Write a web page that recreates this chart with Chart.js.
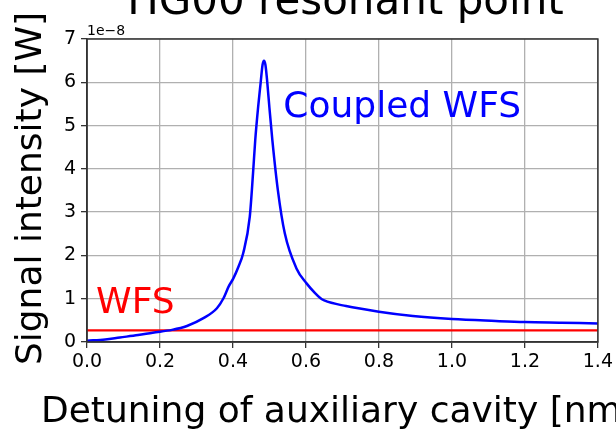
<!DOCTYPE html>
<html>
<head>
<meta charset="utf-8">
<script src="https://cdn.jsdelivr.net/npm/chart.js@4.4.0/dist/chart.umd.min.js"></script>
<style>
  html, body { margin: 0; padding: 0; background: #fff; overflow: hidden; }
  #wrap { width: 616px; height: 430px; }
</style>
</head>
<body>
<div id="wrap"><canvas id="chart" width="616" height="430"></canvas></div>
<script>
// Detuning sweep, signal values in units of 1e-8 W
const detuning = [0.00, 0.05, 0.09, 0.14, 0.18, 0.233, 0.274, 0.319, 0.356, 0.374, 0.388, 0.401, 0.415, 0.428, 0.446, 0.455, 0.461, 0.469, 0.476, 0.481, 0.485, 0.489, 0.494, 0.500, 0.508, 0.523, 0.542, 0.574, 0.601, 0.625, 0.640, 0.650, 0.71, 0.80, 0.893, 1.00, 1.12, 1.20, 1.30, 1.40];
const coupledWfs = [0.03, 0.06, 0.105, 0.16, 0.215, 0.28, 0.37, 0.55, 0.78, 1.01, 1.28, 1.47, 1.74, 2.05, 2.89, 3.90, 4.66, 5.43, 6.00, 6.40, 6.50, 6.40, 6.00, 5.40, 4.66, 3.51, 2.51, 1.70, 1.36, 1.13, 1.01, 0.96, 0.83, 0.70, 0.60, 0.53, 0.485, 0.46, 0.445, 0.43];
const wfsX = [0.0, 1.4];
const wfsLevel = [0.27, 0.27];

const xTicks = [0.0, 0.2, 0.4, 0.6, 0.8, 1.0, 1.2, 1.4];
const yTicks = [0, 1, 2, 3, 4, 5, 6, 7];
const yOffsetLabel = "1e\u22128";

const titleText = "HG00 resonant point";
const xTitle = "Detuning of auxiliary cavity [nm]";
const yTitle = "Signal intensity [W]";
// annotation labels: [text, x, y, colour]
const labels = [
  ["Coupled WFS", 0.538, 5.2, "#0000ff"],
  ["WFS", 0.025, 0.67, "#ff0000"]
];

const FONT = "'DejaVu Sans', sans-serif";

const textPlugin = {
  id: "textPlugin",
  afterDraw(chart) {
    const ctx = chart.ctx;
    const area = chart.chartArea;
    const xs = chart.scales.x, ys = chart.scales.y;
    ctx.save();

    // frame (top and right spines)
    ctx.strokeStyle = "#333";
    ctx.lineWidth = 1.5;
    ctx.strokeRect(area.left, area.top, area.right - area.left, area.bottom - area.top);

    ctx.fillStyle = "#000";
    ctx.textBaseline = "alphabetic";

    ctx.font = "42px " + FONT;
    ctx.textAlign = "center";
    ctx.fillText(titleText, (area.left + area.right) / 2 + 3, 14);

    ctx.save();
    ctx.font = "36px " + FONT;
    ctx.translate(41, (area.top + area.bottom) / 2 - 2);
    ctx.rotate(-Math.PI / 2);
    ctx.fillText(yTitle, 0, 0);
    ctx.restore();

    ctx.font = "36px " + FONT;
    ctx.textAlign = "left";
    ctx.fillText(xTitle, 41, 422);

    ctx.font = "14px " + FONT;
    ctx.fillText(yOffsetLabel, area.left, 35);

    ctx.font = "36px " + FONT;
    labels.forEach(([t, x, y, c]) => {
      ctx.fillStyle = c;
      ctx.fillText(t, xs.getPixelForValue(x), ys.getPixelForValue(y));
    });
    ctx.restore();
  }
};

new Chart(document.getElementById("chart"), {
  type: "line",
  data: {
    datasets: [{
      label: "Coupled WFS",
      data: detuning.map((x, i) => ({ x, y: coupledWfs[i] })),
      borderColor: "#0000ff",
      borderWidth: 2.5,
      pointRadius: 0,
      tension: 0.25,
      cubicInterpolationMode: "monotone"
    }, {
      label: "WFS",
      data: wfsX.map((x, i) => ({ x, y: wfsLevel[i] })),
      borderColor: "#ff0000",
      borderWidth: 2.2,
      pointRadius: 0
    }]
  },
  options: {
    responsive: false,
    animation: false,
    events: [],
    layout: { padding: { left: 0, top: 39, right: 17, bottom: 48 } },
    plugins: { legend: { display: false }, tooltip: { enabled: false }, title: { display: false } },
    scales: {
      x: {
        type: "linear",
        min: 0, max: 1.4,
        afterBuildTicks: s => { s.ticks = xTicks.map(v => ({ value: v })); },
        afterFit: s => { s.height = 40; },
        ticks: {
          color: "#000",
          font: { family: FONT, size: 19 },
          padding: 3,
          maxRotation: 0,
          callback: v => v.toFixed(1)
        },
        grid: { color: "#b0b0b0", lineWidth: 1.3, tickColor: "#333", tickLength: 6 },
        border: { color: "#333", width: 1.5 }
      },
      y: {
        min: 0, max: 7,
        afterBuildTicks: s => { s.ticks = yTicks.map(v => ({ value: v })); },
        afterFit: s => { s.width = 87; },
        ticks: {
          color: "#000",
          font: { family: FONT, size: 19 },
          padding: 5
        },
        grid: { color: "#b0b0b0", lineWidth: 1.3, tickColor: "#333", tickLength: 6 },
        border: { color: "#333", width: 1.5 }
      }
    }
  },
  plugins: [textPlugin]
});
</script>
</body>
</html>
